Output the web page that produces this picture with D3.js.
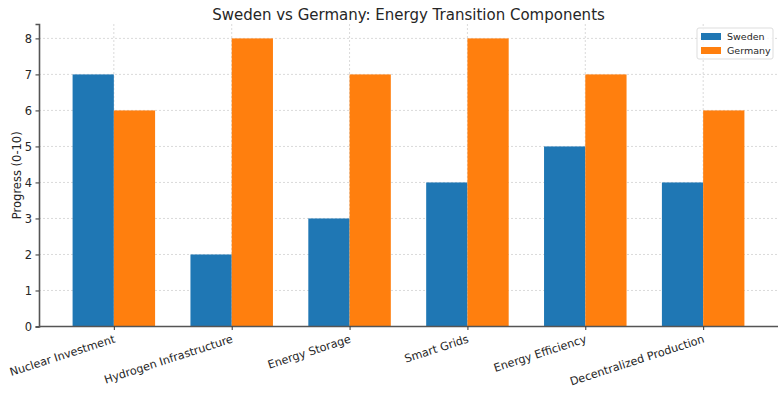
<!DOCTYPE html>
<html>
<head>
<meta charset="utf-8">
<title>Sweden vs Germany</title>
<script src="https://cdn.jsdelivr.net/npm/d3@7"></script>
<style>
  body { margin: 0; background: #fff; }
  text { font-family: "DejaVu Sans", sans-serif; fill: #262626; }
</style>
</head>
<body>
<svg id="chart" width="784" height="395"></svg>
<script>
// data
const categories = ["Nuclear Investment", "Hydrogen Infrastructure", "Energy Storage",
                    "Smart Grids", "Energy Efficiency", "Decentralized Production"];
const sweden = [7, 2, 3, 4, 5, 4];
const germany = [6, 8, 7, 8, 7, 6];
const seriesNames = ["Sweden", "Germany"];
const yTicks = [0, 1, 2, 3, 4, 5, 6, 7, 8];

const colors = ["#1f77b4", "#ff7f0e"];
const plot = {left: 39, right: 778, top: 24, bottom: 326.5};
const barW = 0.35;

const svg = d3.select("#chart");

// linear x in category index units, like matplotlib
const x = d3.scaleLinear()
    .domain([-0.635, categories.length - 1 + 0.635])
    .range([plot.left, plot.right]);
const y = d3.scaleLinear().domain([0, 8.4]).range([plot.bottom, plot.top]);

// grid
const grid = svg.append("g").attr("stroke", "#d0d0d0").attr("stroke-width", 0.8)
    .attr("stroke-dasharray", "2,2");
grid.selectAll(".gy").data(yTicks).enter().append("line")
    .attr("x1", plot.left).attr("x2", plot.right)
    .attr("y1", d => y(d)).attr("y2", d => y(d));
grid.selectAll(".gx").data(categories).enter().append("line")
    .attr("x1", (d, i) => x(i)).attr("x2", (d, i) => x(i))
    .attr("y1", plot.top).attr("y2", plot.bottom);

// bars
[sweden, germany].forEach((vals, s) => {
    svg.append("g").selectAll("rect").data(vals).enter().append("rect")
        .attr("x", (d, i) => x(i + (s === 0 ? -barW : 0)))
        .attr("width", x(barW) - x(0))
        .attr("y", d => y(d))
        .attr("height", d => y(0) - y(d))
        .attr("fill", colors[s]);
});

// y axis
const yAxis = svg.append("g").attr("transform", `translate(${plot.left},0)`)
    .call(d3.axisLeft(y).tickValues(yTicks).tickSize(3.5).tickPadding(3.5).tickFormat(d3.format("d")));
yAxis.select(".domain").attr("stroke", "#555").attr("stroke-width", 1.6);
yAxis.selectAll(".tick line").attr("stroke", "#333");
yAxis.selectAll("text").style("font-size", "11.5px").attr("fill", "#262626");

// x axis
const xAxis = svg.append("g").attr("transform", `translate(0,${plot.bottom})`)
    .call(d3.axisBottom(x).tickValues(d3.range(categories.length)).tickSize(3.5)
        .tickFormat(i => categories[i]));
xAxis.select(".domain").attr("stroke", "#555").attr("stroke-width", 1.6)
    .attr("d", `M${plot.left},0H${plot.right}`);
xAxis.selectAll(".tick line").attr("stroke", "#333");
xAxis.selectAll("text")
    .style("font-size", "11.2px").attr("fill", "#262626")
    .attr("text-anchor", "end")
    .attr("dy", null).attr("y", 0)
    .attr("transform", "translate(-1,8) rotate(-18)")
    .attr("dominant-baseline", "hanging");

// y label
svg.append("text")
    .attr("transform", `translate(21,${(plot.top + plot.bottom) / 2}) rotate(-90)`)
    .attr("text-anchor", "middle")
    .style("font-size", "11.5px")
    .text("Progress (0-10)");

// title
svg.append("text")
    .attr("x", (plot.left + plot.right) / 2).attr("y", 19.5)
    .attr("text-anchor", "middle")
    .style("font-size", "15px")
    .text("Sweden vs Germany: Energy Transition Components");

// legend
const lg = svg.append("g").attr("transform", "translate(697,28)");
lg.append("rect").attr("width", 76).attr("height", 31).attr("rx", 2)
    .attr("fill", "#fff").attr("fill-opacity", 0.8).attr("stroke", "#ddd");
seriesNames.forEach((n, i) => {
    lg.append("rect").attr("x", 4).attr("y", 5 + i * 14).attr("width", 20).attr("height", 7)
        .attr("fill", colors[i]);
    lg.append("text").attr("x", 30).attr("y", 12 + i * 14)
        .style("font-size", "9.5px").text(n);
});
</script>
</body>
</html>
